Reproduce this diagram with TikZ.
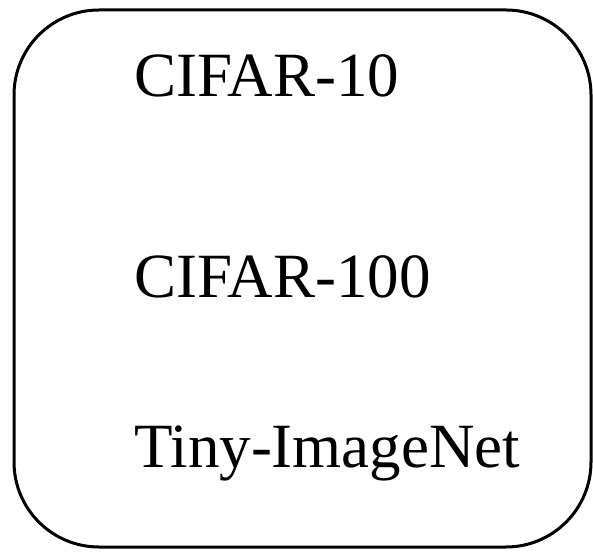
\documentclass[tikz,border=0pt]{standalone}
\usepackage{fontspec}
\setmainfont{Liberation Serif}
\begin{document}
\begin{tikzpicture}[x=1pt,y=1pt,
  frame/.style={draw=black, line width=3pt, rounded corners=85pt},
  dataset/.style={anchor=base west, inner sep=0pt, font=\fontsize{63}{75}\selectfont}]
  \useasboundingbox (0,0) rectangle (593,551);
  \node[frame, minimum width=577pt, minimum height=537pt, inner sep=0pt] (box) at (302.5,272.5) {};
  \node[dataset] (c10) at (134,454) {CIFAR-10};
  \node[dataset] (c100) at (134,253) {CIFAR-100};
  \node[dataset] (tin) at (134,84) {Tiny-ImageNet};
\end{tikzpicture}
\end{document}
